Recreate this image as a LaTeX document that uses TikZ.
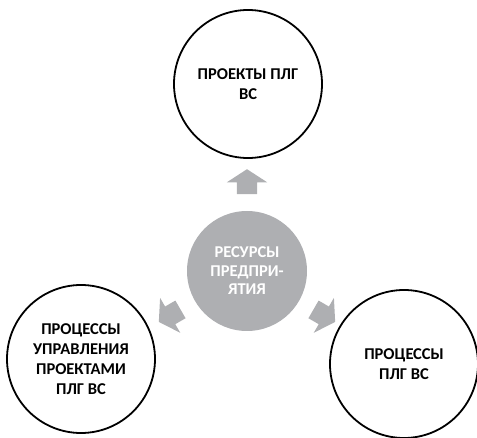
\documentclass[tikz,border=0pt]{standalone}
\usepackage{fontspec}
\setmainfont{Carlito}
\usetikzlibrary{shapes.arrows}
\definecolor{resgray}{RGB}{174,175,178}

\begin{document}
\begin{tikzpicture}[x=1pt,y=1pt,
  outer/.style={circle, draw=black, line width=1.8pt, minimum size=148pt,
    inner sep=0pt, align=center, font=\fontsize{16.5}{20}\selectfont\bfseries},
  core/.style={circle, fill=resgray, minimum size=120pt, inner sep=0pt,
    align=center, text=white, font=\fontsize{16.5}{18.5}\selectfont\bfseries},
  blockarrow/.style={single arrow, fill=resgray, draw=none,
    inner xsep=0pt, inner ysep=10pt, minimum height=25pt,
    single arrow head extend=10pt, single arrow tip angle=114}]
  \useasboundingbox (0,0) rectangle (477,-438);

  \node[core] (res) at (247,-271) {РЕСУРСЫ\\ПРЕДПРИ-\\ЯТИЯ};

  \node[outer] (proj) at (248,-84) {ПРОЕКТЫ ПЛГ\\ВС};
  \node[outer] (mgmt) at (81,-359) {ПРОЦЕССЫ\\УПРАВЛЕНИЯ\\ПРОЕКТАМИ\\ПЛГ ВС};
  \node[outer] (proc) at (404,-364) {ПРОЦЕССЫ\\ПЛГ ВС};

  \foreach \a/\n in {90/up, 210/left, 330/right}
    \node[blockarrow, rotate=\a] (arr\n) at ([shift={(\a:86)}]res) {};

\end{tikzpicture}
\end{document}
